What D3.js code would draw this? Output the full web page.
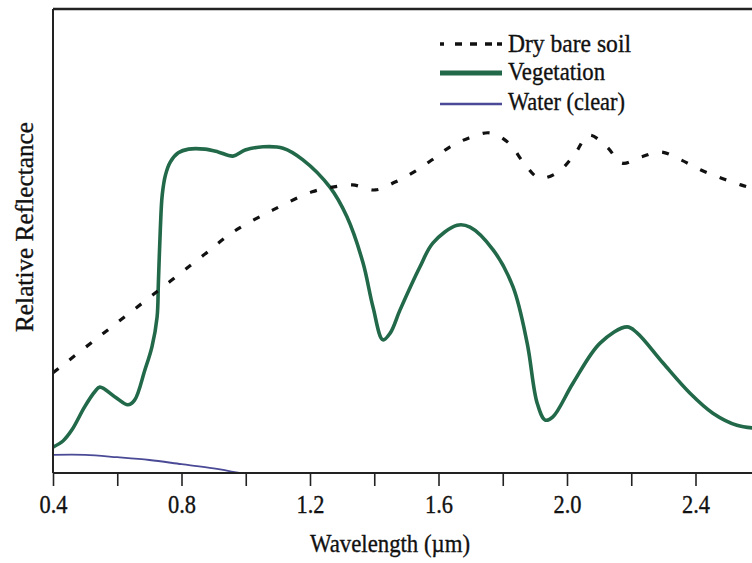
<!DOCTYPE html>
<html>
<head>
<meta charset="utf-8">
<script src="https://cdn.jsdelivr.net/npm/d3@7"></script>
<style>
  html, body { margin: 0; padding: 0; background: #fff; }
  svg { display: block; }
  text { font-family: "Liberation Serif", "Times New Roman", serif; fill: #111; stroke: #111; stroke-width: 0.35px; }
</style>
</head>
<body>
<svg id="chart" width="752" height="563"></svg>
<script>
// Wavelength (µm) and relative reflectance samples for each surface type
const soilWavelength = [0.40, 0.555, 0.711, 0.866, 0.960, 1.085, 1.207, 1.270, 1.332, 1.403, 1.465, 1.524,
  1.580, 1.636, 1.695, 1.760, 1.819, 1.866, 1.913, 1.969, 2.022, 2.068, 2.124, 2.171, 2.230, 2.292,
  2.354, 2.417, 2.479, 2.541, 2.600];
const soilReflectance = [21.6, 30.0, 38.4, 46.8, 51.9, 56.7, 60.6, 61.6, 62.1, 61.0, 62.7, 64.9,
  67.5, 70.3, 72.2, 73.3, 71.1, 66.8, 63.6, 64.7, 68.5, 72.8, 70.3, 66.8, 68.1, 69.2,
  67.5, 65.3, 63.6, 62.1, 60.9];

const vegWavelength = [0.400, 0.431, 0.459, 0.498, 0.530, 0.546, 0.593, 0.633, 0.654, 0.686, 0.708,
  0.724, 0.728, 0.734, 0.740, 0.750, 0.765, 0.790, 0.822, 0.873, 0.914, 0.960, 0.998, 1.054, 1.116,
  1.178, 1.262, 1.315, 1.365, 1.396, 1.427, 1.450, 1.480, 1.542, 1.583, 1.658, 1.698, 1.770, 1.832,
  1.876, 1.907, 1.932, 1.956, 2.019, 2.103, 2.187, 2.218, 2.299, 2.383, 2.454, 2.529, 2.600];
const vegReflectance = [5.6, 6.9, 9.3, 14.2, 17.5, 18.5, 16.4, 14.7, 15.7, 22.2, 27.2,
  33.6, 40.9, 52.4, 59.9, 64.2, 67.0, 69.0, 69.8, 69.8, 69.2, 68.3, 69.6, 70.3, 70.0,
  67.5, 61.6, 55.2, 45.3, 35.8, 28.7, 30.2, 35.1, 44.4, 49.6, 53.4, 53.0, 48.1, 40.1,
  28.0, 15.1, 11.4, 12.1, 19.4, 28.0, 31.5, 30.2, 23.7, 17.2, 12.9, 10.3, 9.6];

const waterWavelength = [0.40, 0.50, 0.60, 0.70, 0.80, 0.90, 0.98];
const waterReflectance = [3.9, 3.9, 3.4, 2.8, 1.9, 1.0, 0.0];

const tickValues = [0.4, 0.6, 0.8, 1.0, 1.2, 1.4, 1.6, 1.8, 2.0, 2.2, 2.4];
const tickLabels = ["0.4", "", "0.8", "", "1.2", "", "1.6", "", "2.0", "", "2.4"];

const seriesNames = ["Dry bare soil", "Vegetation", "Water (clear)"];

const svg = d3.select("#chart");
const plotLeft = 53, plotTop = 9, plotBottom = 473;

const x = d3.scaleLinear().domain([0.4, 2.6]).range([plotLeft, plotLeft + 2.2 * 321.25]);
const y = d3.scaleLinear().domain([0, 100]).range([plotBottom, plotTop]);

const zip = (xs, ys) => xs.map((w, i) => [w, ys[i]]);
const line = d3.line().x(d => x(d[0])).y(d => y(d[1])).curve(d3.curveCatmullRom.alpha(0.5));

// Curves
svg.append("path")
  .attr("d", line(zip(waterWavelength, waterReflectance)))
  .attr("fill", "none").attr("stroke", "#4a4a96").attr("stroke-width", 1.8);

svg.append("path")
  .attr("d", line(zip(vegWavelength, vegReflectance)))
  .attr("fill", "none").attr("stroke", "#22694a").attr("stroke-width", 3.6)
  .attr("stroke-linejoin", "round");

svg.append("path")
  .attr("d", line(zip(soilWavelength, soilReflectance)))
  .attr("fill", "none").attr("stroke", "#111").attr("stroke-width", 3.2)
  .attr("stroke-dasharray", "7,14");

// Frame: top border and left axis line
svg.append("line").attr("x1", plotLeft).attr("x2", 752).attr("y1", plotTop).attr("y2", plotTop)
  .attr("stroke", "#222").attr("stroke-width", 2.4);
svg.append("line").attr("x1", plotLeft).attr("x2", plotLeft).attr("y1", plotTop).attr("y2", plotBottom)
  .attr("stroke", "#222").attr("stroke-width", 2);

// Bottom axis
const xAxis = d3.axisBottom(x)
  .tickValues(tickValues)
  .tickSize(13)
  .tickSizeOuter(0)
  .tickFormat((d, i) => tickLabels[i]);

const gx = svg.append("g").attr("transform", `translate(0,${plotBottom})`).call(xAxis);
gx.select(".domain").attr("stroke", "#222").attr("stroke-width", 2)
  .attr("d", `M${plotLeft},0H752`);
gx.selectAll(".tick line").attr("stroke", "#222").attr("stroke-width", 1.6);
gx.selectAll(".tick text")
  .attr("y", 40).attr("dy", 0)
  .style("font-family", "'Liberation Serif', serif")
  .style("font-size", "25px")
  .attr("fill", "#111")
  .each(function () {
    if (this.textContent) d3.select(this).attr("textLength", 28).attr("lengthAdjust", "spacingAndGlyphs");
  });

// Axis titles
svg.append("text")
  .attr("x", 390).attr("y", 552)
  .attr("text-anchor", "middle")
  .attr("font-size", 25)
  .attr("textLength", 160).attr("lengthAdjust", "spacingAndGlyphs")
  .text("Wavelength (µm)");

svg.append("text")
  .attr("transform", "translate(33,227) rotate(-90)")
  .attr("text-anchor", "middle")
  .attr("font-size", 25)
  .attr("textLength", 210).attr("lengthAdjust", "spacingAndGlyphs")
  .text("Relative Reflectance");

// Legend
const legend = svg.append("g");
const lx0 = 440, lx1 = 502, tx = 508;
const rows = [
  { y: 44, base: 52, w: 123 },
  { y: 73, base: 80, w: 97 },
  { y: 104, base: 110, w: 117 }
];

legend.append("line").attr("x1", lx0).attr("x2", lx1).attr("y1", rows[0].y).attr("y2", rows[0].y)
  .attr("stroke", "#111").attr("stroke-width", 3.4)
  .attr("stroke-dasharray", "4,11,7,8,7,8,7,5,5");
legend.append("line").attr("x1", lx0).attr("x2", lx1).attr("y1", rows[1].y).attr("y2", rows[1].y)
  .attr("stroke", "#22694a").attr("stroke-width", 5);
legend.append("line").attr("x1", lx0).attr("x2", lx1).attr("y1", rows[2].y).attr("y2", rows[2].y)
  .attr("stroke", "#4a4a96").attr("stroke-width", 2.6);

legend.selectAll("text.lg").data(seriesNames).join("text")
  .attr("class", "lg")
  .attr("x", tx)
  .attr("y", (d, i) => rows[i].base)
  .attr("font-size", 25)
  .attr("textLength", (d, i) => rows[i].w)
  .attr("lengthAdjust", "spacingAndGlyphs")
  .text(d => d);
</script>
</body>
</html>
